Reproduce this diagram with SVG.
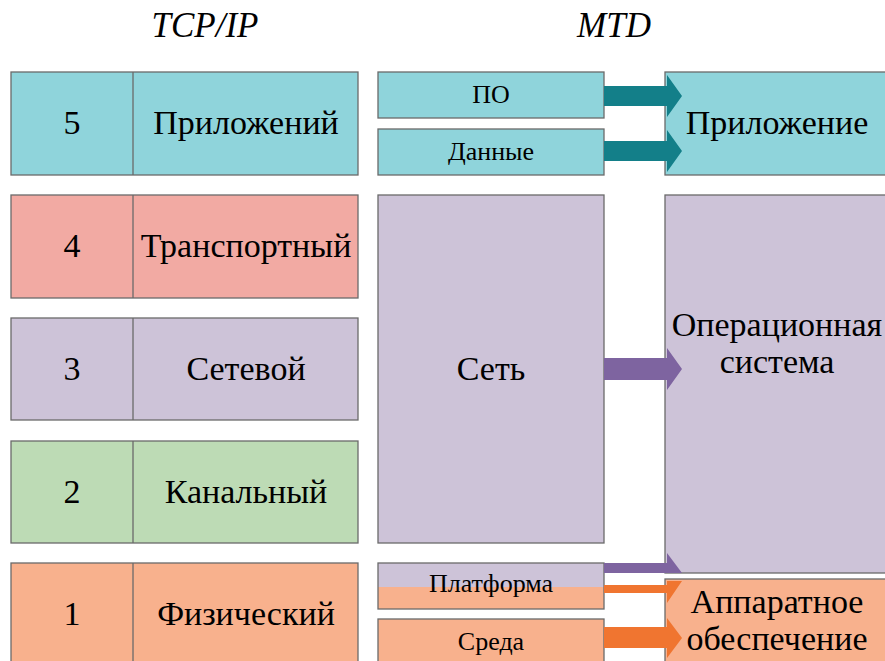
<svg xmlns="http://www.w3.org/2000/svg" width="885" height="661" viewBox="0 0 885 661">
<rect width="885" height="661" fill="#fff"/>
<text x="205" y="37" font-family="Liberation Serif" font-size="35" font-style="italic" text-anchor="middle">TCP/IP</text>
<text x="614" y="37" font-family="Liberation Serif" font-size="35" font-style="italic" text-anchor="middle">MTD</text>

<g id="l5"><rect x="11" y="72" width="347" height="103" fill="#8fd4db" stroke="#6a6a6a" stroke-width="1.3"/><line x1="133" y1="72" x2="133" y2="175" stroke="#6a6a6a" stroke-width="1.3"/><text x="72" y="134" font-family="Liberation Serif" font-size="34" text-anchor="middle">5</text><text x="246" y="134" font-family="Liberation Serif" font-size="34" text-anchor="middle">Приложений</text></g>
<g id="l4"><rect x="11" y="195" width="347" height="103" fill="#f2aaa3" stroke="#6a6a6a" stroke-width="1.3"/><line x1="133" y1="195" x2="133" y2="298" stroke="#6a6a6a" stroke-width="1.3"/><text x="72" y="257" font-family="Liberation Serif" font-size="34" text-anchor="middle">4</text><text x="246" y="257" font-family="Liberation Serif" font-size="34" text-anchor="middle">Транспортный</text></g>
<g id="l3"><rect x="11" y="318" width="347" height="102" fill="#cdc3d8" stroke="#6a6a6a" stroke-width="1.3"/><line x1="133" y1="318" x2="133" y2="420" stroke="#6a6a6a" stroke-width="1.3"/><text x="72" y="380" font-family="Liberation Serif" font-size="34" text-anchor="middle">3</text><text x="246" y="380" font-family="Liberation Serif" font-size="34" text-anchor="middle">Сетевой</text></g>
<g id="l2"><rect x="11" y="441" width="347" height="102" fill="#bddbb5" stroke="#6a6a6a" stroke-width="1.3"/><line x1="133" y1="441" x2="133" y2="543" stroke="#6a6a6a" stroke-width="1.3"/><text x="72" y="503" font-family="Liberation Serif" font-size="34" text-anchor="middle">2</text><text x="246" y="503" font-family="Liberation Serif" font-size="34" text-anchor="middle">Канальный</text></g>
<g id="l1"><rect x="11" y="563" width="347" height="110" fill="#f8b18d" stroke="#6a6a6a" stroke-width="1.3"/><line x1="133" y1="563" x2="133" y2="673" stroke="#6a6a6a" stroke-width="1.3"/><text x="72" y="625" font-family="Liberation Serif" font-size="34" text-anchor="middle">1</text><text x="246" y="625" font-family="Liberation Serif" font-size="34" text-anchor="middle">Физический</text></g>

<g id="po"><rect x="378" y="72" width="226" height="46" fill="#8fd4db" stroke="#6a6a6a" stroke-width="1.3"/><text x="491" y="103" font-family="Liberation Serif" font-size="26" text-anchor="middle">ПО</text></g>
<g id="dannye"><rect x="378" y="129" width="226" height="46" fill="#8fd4db" stroke="#6a6a6a" stroke-width="1.3"/><text x="491" y="160" font-family="Liberation Serif" font-size="26" text-anchor="middle">Данные</text></g>
<g id="set"><rect x="378" y="195" width="226" height="348" fill="#cdc3d8" stroke="#6a6a6a" stroke-width="1.3"/><text x="491" y="380" font-family="Liberation Serif" font-size="34" text-anchor="middle">Сеть</text></g>
<g id="platforma"><rect x="378" y="563" width="226" height="46" fill="#f8b18d"/><rect x="378" y="563" width="226" height="24" fill="#cdc3d8"/><rect x="378" y="563" width="226" height="46" fill="none" stroke="#6a6a6a" stroke-width="1.3"/><text x="491" y="592" font-family="Liberation Serif" font-size="26" text-anchor="middle">Платформа</text></g>
<g id="sreda"><rect x="378" y="619" width="226" height="60" fill="#f8b18d" stroke="#6a6a6a" stroke-width="1.3"/><text x="491" y="650" font-family="Liberation Serif" font-size="26" text-anchor="middle">Среда</text></g>

<g id="app"><rect x="665" y="72" width="240" height="103" fill="#8fd4db" stroke="#6a6a6a" stroke-width="1.3"/><text x="777" y="134" font-family="Liberation Serif" font-size="34" text-anchor="middle">Приложение</text></g>
<g id="os"><rect x="665" y="195" width="240" height="378" fill="#cdc3d8" stroke="#6a6a6a" stroke-width="1.3"/><text x="777" y="336" font-family="Liberation Serif" font-size="34" text-anchor="middle">Операционная</text><text x="777" y="373" font-family="Liberation Serif" font-size="34" text-anchor="middle">система</text></g>
<g id="hw"><rect x="665" y="579" width="240" height="100" fill="#f8b18d" stroke="#6a6a6a" stroke-width="1.3"/><text x="777" y="613" font-family="Liberation Serif" font-size="34" text-anchor="middle">Аппаратное</text><text x="777" y="650" font-family="Liberation Serif" font-size="34" text-anchor="middle">обеспечение</text></g>

<g id="connectors">
<polygon fill="#137f89" points="604,86 667,86 667,75 682,96 667,117 667,106 604,106"/>
<polygon fill="#137f89" points="604,141 667,141 667,130 682,151 667,172 667,161 604,161"/>
<polygon fill="#7e64a0" points="604,358 667,358 667,348 682,369 667,390 667,380 604,380"/>
<polygon fill="#7e64a0" points="604,563 667,563 667,553 682,573 604,573"/>
<polygon fill="#f07530" points="604,585 667,585 667,581 682,581 667,603 667,593 604,593"/>
<polygon fill="#f07530" points="604,627 667,627 667,618 682,638 667,658 667,648 604,648"/>
</g>
</svg>
